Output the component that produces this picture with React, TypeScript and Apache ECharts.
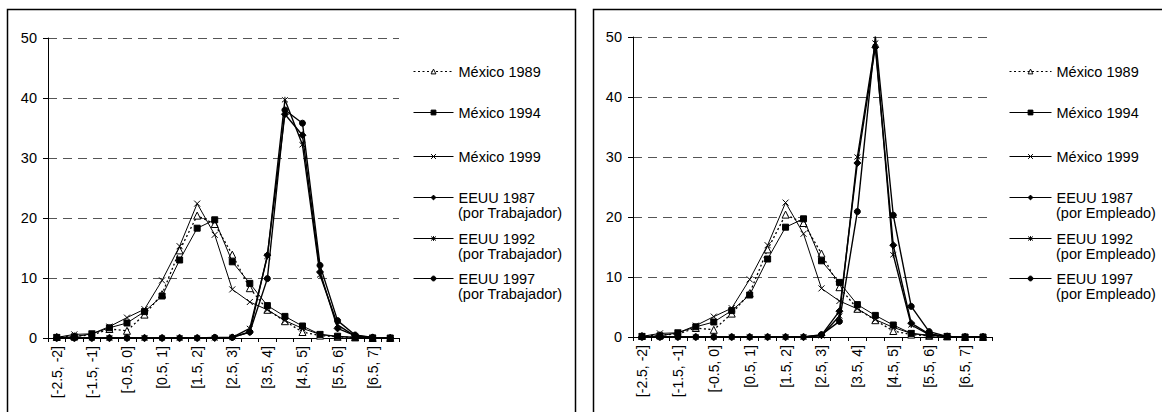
import React, { useEffect, useRef } from "react";
import * as echarts from "echarts";

const categories = [
  "[-2.5, -2]", "[-2, -1.5]", "[-1.5, -1]", "[-1, -0.5]", "[-0.5, 0]",
  "[0, 0.5]", "[0.5, 1]", "[1, 1.5]", "[1.5, 2]", "[2, 2.5]",
  "[2.5, 3]", "[3, 3.5]", "[3.5, 4]", "[4, 4.5]", "[4.5, 5]",
  "[5, 5.5]", "[5.5, 6]", "[6, 6.5]", "[6.5, 7]", "[7, 7.5]",
];

const yTicks = [0, 10, 20, 30, 40, 50];

const mexico1989 = [0.2, 0.3, 0.5, 1.5, 1.2, 3.9, 7.3, 14.6, 20.4, 19.0, 13.9, 8.3, 4.7, 2.8, 1.0, 0.4, 0.2, 0.1, 0, 0];
const mexico1994 = [0.1, 0.2, 0.7, 1.7, 2.5, 4.4, 7.0, 13.0, 18.3, 19.7, 12.7, 9.1, 5.4, 3.6, 2.0, 0.6, 0.3, 0.1, 0, 0];
const mexico1999 = [0.1, 0.6, 0.7, 1.9, 3.4, 4.8, 9.6, 15.3, 22.4, 17.2, 8.1, 6.0, 4.7, 2.9, 1.6, 0.6, 0.2, 0.1, 0, 0];

// Left panel: por Trabajador
const eeuu1987Trab = [0, 0, 0, 0, 0, 0, 0, 0, 0, 0, 0.1, 1.0, 13.8, 37.3, 33.8, 11.0, 1.6, 0.4, 0.1, 0];
const eeuu1992Trab = [0, 0, 0, 0, 0, 0, 0, 0, 0, 0, 0.1, 1.6, 13.6, 39.7, 32.2, 10.5, 2.2, 0.3, 0.1, 0];
const eeuu1997Trab = [0, 0, 0, 0, 0, 0, 0, 0, 0, 0.1, 0.1, 1.0, 9.9, 38.0, 35.8, 12.1, 2.9, 0.5, 0.1, 0];

// Right panel: por Empleado
const eeuu1987Emp = [0, 0, 0, 0, 0, 0, 0, 0, 0, 0, 0.3, 4.3, 29.0, 48.3, 15.3, 2.3, 0.5, 0.1, 0, 0];
const eeuu1992Emp = [0, 0, 0, 0, 0, 0, 0, 0, 0, 0, 0.2, 3.5, 30.0, 49.0, 13.7, 2.0, 0.4, 0.1, 0, 0];
const eeuu1997Emp = [0, 0, 0, 0, 0, 0, 0, 0, 0, 0, 0.4, 2.6, 20.9, 50.1, 20.3, 5.1, 0.9, 0.1, 0, 0];

const seriesNames = ["México 1989", "México 1994", "México 1999", "EEUU 1987", "EEUU 1992", "EEUU 1997"];
const subLabelLeft = "(por Trabajador)";
const subLabelRight = "(por Empleado)";

const FONT = '"Liberation Sans", Arial, Helvetica, sans-serif';
const XMARK = "path://M0,0L10,10M10,0L0,10";
const STAR = "path://M0,0L10,10M10,0L0,10M5,-1L5,11";

const styles = [
  { symbol: "triangle", size: 7, fill: "#fff", line: [2, 2.5], width: 1.3 },
  { symbol: "rect", size: 6, fill: "#000", line: "solid", width: 1 },
  { symbol: XMARK, size: 6, fill: "#000", line: "solid", width: 1 },
  { symbol: "diamond", size: 7, fill: "#000", line: "solid", width: 1.4 },
  { symbol: STAR, size: 6, fill: "#000", line: "solid", width: 1.4 },
  { symbol: "circle", size: 6, fill: "#000", line: "solid", width: 1.4 },
];

function makeSeries(idx: number, gridIndex: number, data: number[]) {
  const s = styles[idx];
  return {
    type: "line",
    name: seriesNames[idx],
    xAxisIndex: gridIndex,
    yAxisIndex: gridIndex,
    data,
    symbol: s.symbol,
    symbolSize: s.size,
    showAllSymbol: true,
    z: 3 + idx,
    lineStyle: { color: "#000", width: s.width, type: s.line },
    itemStyle: { color: s.fill, borderColor: "#000", borderWidth: 1 },
    emphasis: { disabled: true },
  };
}

function xAxis(gridIndex: number) {
  return {
    type: "category",
    gridIndex,
    data: categories,
    boundaryGap: true,
    axisLine: { show: true, lineStyle: { color: "#000", width: 1 } },
    axisTick: { show: true, interval: 0, length: 4, lineStyle: { color: "#000" } },
    axisLabel: {
      interval: 1,
      rotate: 90,
      margin: 8,
      color: "#000",
      fontSize: 14,
      fontFamily: FONT,
    },
    splitLine: { show: false },
  };
}

function yAxis(gridIndex: number) {
  return {
    type: "value",
    gridIndex,
    min: yTicks[0],
    max: yTicks[yTicks.length - 1],
    interval: 10,
    axisLine: { show: true, lineStyle: { color: "#000", width: 1 } },
    axisTick: { show: true, length: 5, lineStyle: { color: "#000" } },
    axisLabel: { color: "#000", fontSize: 14.5, fontFamily: FONT, margin: 11 },
    splitLine: { show: true, lineStyle: { color: "#555", type: [9, 6], width: 1 } },
  };
}

const legendYs = [72, 113, 157, 198, 239, 279];

function legends(left: number, itemWidth: number) {
  return seriesNames.map((n, i) => ({
    data: [n],
    left,
    top: legendYs[i] - 8,
    orient: "vertical",
    padding: 0,
    itemWidth,
    itemHeight: 6,
    itemGap: 5,
    selectedMode: false,
    lineStyle: { width: 1, color: "#000", type: styles[i].line },
    itemStyle: { borderWidth: 1, borderColor: "#000", color: styles[i].fill },
    textStyle: { color: "#000", fontSize: 14.5, fontFamily: FONT },
  }));
}

export default function App() {
  const ref = useRef<HTMLDivElement>(null);
  useEffect(() => {
    document.body.style.margin = "0";
    const chart = echarts.init(ref.current!, null, { renderer: "svg" });
    const subTexts: any[] = [];
    [3, 4, 5].forEach((i) => {
      subTexts.push({
        type: "text",
        left: 458,
        top: legendYs[i] + 7,
        style: { text: subLabelLeft, fill: "#000", font: `14.5px ${FONT}` },
      });
      subTexts.push({
        type: "text",
        left: 1056,
        top: legendYs[i] + 7,
        style: { text: subLabelRight, fill: "#000", font: `14.5px ${FONT}` },
      });
    });
    chart.setOption({
      animation: false,
      backgroundColor: "#fff",
      grid: [
        { left: 48, top: 38, width: 351, height: 300, outerBoundsMode: "none", containLabel: false },
        { left: 633, top: 37, width: 359, height: 300, outerBoundsMode: "none", containLabel: false },
      ],
      xAxis: [xAxis(0), xAxis(1)],
      yAxis: [yAxis(0), yAxis(1)],
      legend: [...legends(413, 40), ...legends(1009, 42)],
      series: [
        makeSeries(0, 0, mexico1989),
        makeSeries(1, 0, mexico1994),
        makeSeries(2, 0, mexico1999),
        makeSeries(3, 0, eeuu1987Trab),
        makeSeries(4, 0, eeuu1992Trab),
        makeSeries(5, 0, eeuu1997Trab),
        makeSeries(0, 1, mexico1989),
        makeSeries(1, 1, mexico1994),
        makeSeries(2, 1, mexico1999),
        makeSeries(3, 1, eeuu1987Emp),
        makeSeries(4, 1, eeuu1992Emp),
        makeSeries(5, 1, eeuu1997Emp),
      ],
      graphic: [
        {
          type: "rect",
          shape: { x: 7.5, y: 9.5, width: 568, height: 440 },
          style: { fill: "none", stroke: "#000", lineWidth: 1.5 },
          silent: true,
        },
        {
          type: "rect",
          shape: { x: 593.5, y: 9.5, width: 600, height: 440 },
          style: { fill: "none", stroke: "#000", lineWidth: 1.5 },
          silent: true,
        },
        ...subTexts,
      ],
    });
    return () => chart.dispose();
  }, []);
  return <div ref={ref} style={{ width: 1162, height: 412 }} />;
}
